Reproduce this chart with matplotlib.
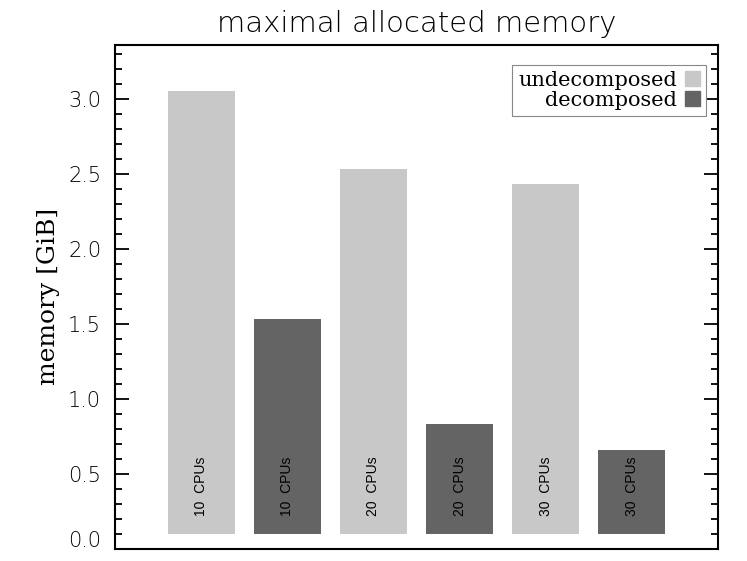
import matplotlib
matplotlib.use("Agg")
import matplotlib.pyplot as plt
import matplotlib.transforms as mtransforms
from matplotlib.patches import Patch
from matplotlib.ticker import MultipleLocator, FormatStrFormatter

# data
labels = ["10  CPUs", "10  CPUs", "20  CPUs", "20  CPUs", "30  CPUs", "30  CPUs"]
kinds = ["undecomposed", "decomposed", "undecomposed", "decomposed", "undecomposed", "decomposed"]
memory = [3.05, 1.53, 2.53, 0.83, 2.43, 0.66]
base = 0.1

colors = {"undecomposed": "#c8c8c8", "decomposed": "#646464"}

fig = plt.figure(figsize=(7.47, 5.61), dpi=100)
ax = fig.add_axes([0.154, 0.0214, 0.807, 0.899])

x = list(range(len(memory)))
heights = [m - base for m in memory]
ax.bar(x, heights, bottom=base, width=0.78,
       color=[colors[k] for k in kinds], edgecolor="none")

for xi, lab in zip(x, labels):
    ax.text(xi, 0.22, lab, rotation=90, ha="center", va="bottom",
            fontsize=10, family="Liberation Sans", color="black")

ax.set_xlim(-1, 6)
ax.set_ylim(0, 3.36)
ax.set_xticks([])
ax.yaxis.set_major_locator(MultipleLocator(0.5))
ax.yaxis.set_minor_locator(MultipleLocator(0.1))
ax.yaxis.set_major_formatter(FormatStrFormatter("%.1f"))
ax.tick_params(axis="y", which="both", direction="in", right=True, width=1.3)
ax.tick_params(axis="y", which="major", length=10, labelsize=15, pad=10)
ax.tick_params(axis="y", which="minor", length=5)
for lab in ax.get_yticklabels():
    lab.set_family("DejaVu Sans")
    lab.set_fontweight(200)
    lab.set_color("black")
for s in ax.spines.values():
    s.set_linewidth(1.5)

ax.set_ylabel("memory [GiB]", family="DejaVu Serif", fontsize=18, labelpad=6)
ax.set_title("maximal allocated memory", family="DejaVu Sans", fontweight=200,
             fontsize=21, pad=9)

handles = [Patch(color=colors["undecomposed"], label="undecomposed"),
           Patch(color=colors["decomposed"], label="decomposed")]
leg = ax.legend(handles=handles, loc="upper right", bbox_to_anchor=(0.980, 0.960),
                borderaxespad=0, markerfirst=False,
                prop={"family": "DejaVu Serif", "size": 15}, fancybox=False,
                edgecolor="#888888", framealpha=1,
                handlelength=0.72, handleheight=0.72, handletextpad=0.35,
                labelspacing=0.05, borderpad=0.3)
leg.get_frame().set_linewidth(0.8)
leg._legend_box.align = "right"

# lowest tick label sits a bit above the axis line, as in the original
fig.canvas.draw()
shift = mtransforms.ScaledTranslation(0, 10 / 100, fig.dpi_scale_trans)
for tick in ax.yaxis.get_major_ticks():
    if abs(tick.get_loc()) < 1e-9:
        tick.label1.set_transform(tick.label1.get_transform() + shift)

fig.savefig("out.png", dpi=100)
